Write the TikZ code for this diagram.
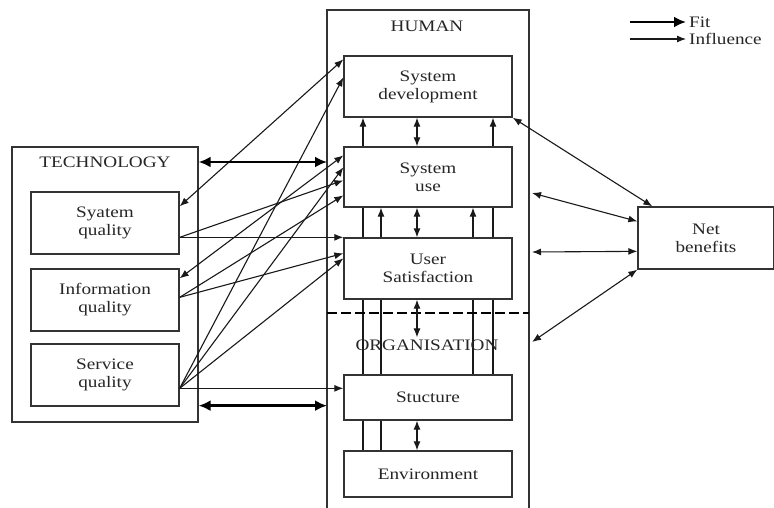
\documentclass[tikz,border=0pt]{standalone}
\usepackage{fontspec}
\setmainfont[FakeStretch=1.2]{Liberation Serif}
\usetikzlibrary{arrows.meta,calc,backgrounds}

\tikzset{
  frame/.style={draw=black!80, line width=1.3pt},
  box/.style={frame, fill=white, minimum width=148pt, minimum height=62pt, align=center, inner sep=0pt},
  hbox/.style={box, minimum width=168pt},
  lbl/.style={inner sep=0pt, text=black!85},
  infl/.style={draw=black!90, line width=1.1pt, >={Latex[length=9pt,width=7pt]}},
  fitarrow/.style={draw=black, line width=2.6pt, >={Latex[length=12pt,width=11pt]}},
}

\begin{document}
\begin{tikzpicture}[x=1pt, y=-1pt, font=\fontsize{16}{18}\selectfont, text=black!85]
  \useasboundingbox (0,0) rectangle (774,508);

  % technology side
  \node[frame, minimum width=186pt, minimum height=275pt, inner sep=0pt] (tech) at (105,284.5) {};
  \node[lbl] (techlbl) at (105,162) {TECHNOLOGY};
  \node[box] (sysq) at (105,223) {Syatem\\quality};
  \node[box] (infq) at (105,300) {Information\\quality};
  \node[box] (servq) at (105,375) {Service\\quality};

  % human / organisation column
  \coordinate (hl) at (327,0);
  \coordinate (hr) at (529,0);
  \draw[frame] (327,508) -- (327,10) -- (529,10) -- (529,508);
  \node[lbl] (humanlbl) at (427,26) {HUMAN};
  \node[hbox, minimum height=61pt] (sysdev) at (428,86.5) {System\\development};
  \node[hbox, minimum height=60pt] (sysuse) at (428,177) {System\\use};
  \node[hbox, minimum height=61pt] (usat) at (428,268.5) {User\\Satisfaction};
  \draw[black, line width=2pt, dash pattern=on 10pt off 4pt] (327,313) -- (529,313);
  \node[lbl] (orglbl) at (427,345) {ORGANISATION};
  \node[hbox, minimum height=45pt] (struct) at (428,397.5) {Stucture};
  \node[hbox, minimum height=46pt] (env) at (428,474) {Environment};

  \node[frame, minimum width=136pt, minimum height=62pt, inner sep=0pt, align=center] (net) at (706,238) {Net\\benefits};

  % vertical links behind the boxes
  \coordinate (va) at (363,0);
  \coordinate (vb) at (381,0);
  \coordinate (vm) at (417,0);
  \coordinate (vc) at (473,0);
  \coordinate (vd) at (493,0);
  \begin{scope}[on background layer]
    \draw[infl,->] (va |- env.north) -- (va |- sysdev.south);
    \draw[infl,->] (vb |- env.north) -- (vb |- sysuse.south);
    \draw[infl,->] (vc |- struct.north) -- (vc |- sysuse.south);
    \draw[infl,->] (vd |- struct.north) -- (vd |- sysdev.south);
  \end{scope}
  \draw[infl,<->] (vm |- sysdev.south) -- (vm |- sysuse.north);
  \draw[infl,<->] (vm |- sysuse.south) -- (vm |- usat.north);
  \draw[infl,<->] (vm |- usat.south) -- ($(vm |- orglbl.north)+(0,-2)$);
  \draw[infl,<->] (vm |- struct.south) -- (vm |- env.north);

  % quality -> human
  \coordinate (sq) at ($(servq.north east)+(0,45)$);
  \draw[infl,<->] ($(sysq.north east)+(0,15)$) -- ($(sysdev.north west)+(0,4)$);
  \draw[infl,->] ($(sysq.north east)+(0,46)$) -- ($(sysuse.north west)+(0,34)$);
  \draw[infl,->] ($(sysq.north east)+(0,46)$) -- (usat.north west);
  \draw[infl,<->] ($(infq.north east)+(0,10)$) -- ($(sysuse.north west)+(0,9)$);
  \draw[infl,->] ($(infq.north east)+(0,29)$) -- ($(sysuse.north west)+(0,49)$);
  \draw[infl,->] ($(infq.north east)+(0,29)$) -- ($(usat.north west)+(0,16)$);
  \draw[infl,->] (sq) -- ($(sysdev.north west)+(0,22)$);
  \draw[infl,->] (sq) -- ($(sysuse.north west)+(0,21)$);
  \draw[infl,->] (sq) -- ($(usat.north west)+(0,21)$);
  \draw[infl,->] (sq) -- (struct.west |- sq);

  % fit arrows
  \draw[fitarrow,<->] (tech.east |- techlbl) -- (hl |- techlbl);
  \draw[fitarrow,<->] ($(tech.south east)+(0,-17)$) -- (hl |- {$(tech.south east)+(0,-17)$});

  % net benefits
  \draw[infl,<->] (sysdev.south east) -- ($(net.north west)+(15,0)$);
  \draw[infl,<->] ($(hr)+(3,193)$) -- ($(net.north west)+(0,15)$);
  \draw[infl,<->] ($(hr)+(3,252)$) -- ($(net.north west)+(0,45)$);
  \draw[infl,<->] ($(hr)+(3,342)$) -- (net.south west);

  % legend
  \node[lbl, anchor=west] (fitlbl) at (689,22) {Fit};
  \node[lbl, anchor=west] (infllbl) at (689,39) {Influence};
  \draw[fitarrow,->] ($(fitlbl.west)+(-59,0)$) -- ($(fitlbl.west)+(-3,0)$);
  \draw[infl,->] ($(infllbl.west)+(-59,0)$) -- ($(infllbl.west)+(-3,0)$);
\end{tikzpicture}
\end{document}
